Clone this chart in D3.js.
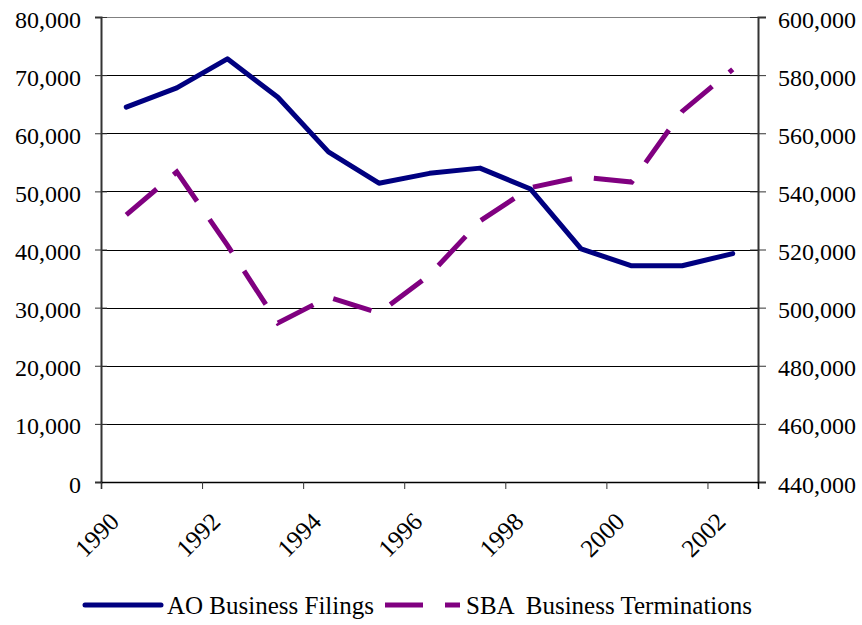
<!DOCTYPE html>
<html>
<head>
<meta charset="utf-8">
<script src="https://cdn.jsdelivr.net/npm/d3@7"></script>
<style>
  body { margin: 0; background: #fff; }
  svg text { font-family: "Liberation Serif", "Times New Roman", serif; fill: #000; }
</style>
</head>
<body>
<svg width="862" height="625"></svg>
<script>
// chart data
var years = [1990, 1991, 1992, 1993, 1994, 1995, 1996, 1997, 1998, 1999, 2000, 2001, 2002];
var aoFilings = [64500, 67800, 72800, 66200, 56800, 51400, 53100, 54000, 50400, 40100, 37200, 37200, 39300];
var sbaTerminations = [531900, 546700, 521500, 494700, 503600, 498200, 511200, 529800, 541300, 545000, 543200, 567500, 582000];
var leftTicks = [0, 10000, 20000, 30000, 40000, 50000, 60000, 70000, 80000];
var rightTicks = [440000, 460000, 480000, 500000, 520000, 540000, 560000, 580000, 600000];
var yearLabels = [1990, 1992, 1994, 1996, 1998, 2000, 2002];
var seriesNames = ["AO Business Filings", "SBA  Business Terminations"];

var svg = d3.select("svg");
var plotL = 101, plotR = 758, plotT = 17, plotB = 482;
var fontSize = "24px";

// x edges: a category spans [year, year+1]
var x = d3.scaleLinear().domain([1990, 2003]).range([plotL, plotR]);
var yL = d3.scaleLinear().domain([0, 80000]).range([plotB, plotT]);
var yR = d3.scaleLinear().domain([440000, 600000]).range([plotB, plotT]);
var fmt = d3.format(",");

// gridlines
svg.append("g")
  .selectAll("line")
  .data(leftTicks)
  .enter().append("line")
  .attr("x1", plotL).attr("x2", plotR)
  .attr("y1", function (d) { return Math.round(yL(d)) + 0.5; })
  .attr("y2", function (d) { return Math.round(yL(d)) + 0.5; })
  .attr("stroke", function (d) { return d == 80000 ? "#808080" : "#000"; })
  .attr("stroke-width", 1);

// left axis
var gL = svg.append("g")
  .attr("transform", "translate(" + plotL + ",0)")
  .call(d3.axisLeft(yL).tickValues(leftTicks).tickFormat(fmt).tickSize(6).tickPadding(14));
gL.select(".domain").attr("stroke", "#333").attr("stroke-width", 2);
gL.selectAll(".tick line").attr("x1", 6).attr("stroke", "#333");
gL.selectAll("text").style("font-size", fontSize).attr("dy", "0.42em");

// right axis
var gR = svg.append("g")
  .attr("transform", "translate(" + plotR + ",0)")
  .call(d3.axisRight(yR).tickValues(rightTicks).tickFormat(fmt).tickSize(8).tickPadding(12));
gR.select(".domain").attr("stroke", "#333").attr("stroke-width", 2);
gR.selectAll(".tick line").attr("x1", -8).attr("stroke", "#333");
gR.selectAll("text").style("font-size", fontSize).attr("dy", "0.42em");

// bottom axis
var gB = svg.append("g")
  .attr("transform", "translate(0," + plotB + ")")
  .call(d3.axisBottom(x).tickValues(yearLabels).tickFormat(d3.format("d")).tickSize(7));
gB.select(".domain").attr("stroke", "#000").attr("stroke-width", 1.5);
gB.selectAll(".tick line").attr("stroke", "#333");
gB.selectAll("text")
  .style("font-size", "25px")
  .attr("text-anchor", "end")
  .attr("x", 0).attr("y", 0).attr("dy", "0.35em")
  .attr("transform", "translate(13,35) rotate(-45)");

// lines
var lineL = d3.line()
  .x(function (d, i) { return x(years[i] + 0.5); })
  .y(function (d) { return yL(d); });
var lineR = d3.line()
  .x(function (d, i) { return x(years[i] + 0.5); })
  .y(function (d) { return yR(d); });

svg.append("path")
  .datum(sbaTerminations)
  .attr("d", lineR)
  .attr("fill", "none")
  .attr("stroke", "#800080")
  .attr("stroke-width", 5)
  .attr("stroke-dasharray", "40,22")
  .attr("stroke-linejoin", "miter");

svg.append("path")
  .datum(aoFilings)
  .attr("d", lineL)
  .attr("fill", "none")
  .attr("stroke", "#000080")
  .attr("stroke-width", 5)
  .attr("stroke-linejoin", "round")
  .attr("stroke-linecap", "round");

// legend
var legY = 605;
svg.append("line")
  .attr("x1", 85).attr("x2", 161).attr("y1", legY).attr("y2", legY)
  .attr("stroke", "#000080").attr("stroke-width", 5).attr("stroke-linecap", "round");
svg.append("text")
  .attr("x", 167).attr("y", legY).attr("dy", "0.35em")
  .style("font-size", "25px")
  .text(seriesNames[0]);
svg.append("line")
  .attr("x1", 385).attr("x2", 460).attr("y1", legY).attr("y2", legY)
  .attr("stroke", "#800080").attr("stroke-width", 5).attr("stroke-dasharray", "38,22");
svg.append("text")
  .attr("x", 466).attr("y", legY).attr("dy", "0.35em")
  .style("font-size", "25px")
  .style("white-space", "pre")
  .attr("xml:space", "preserve")
  .text(seriesNames[1]);
</script>
</body>
</html>
